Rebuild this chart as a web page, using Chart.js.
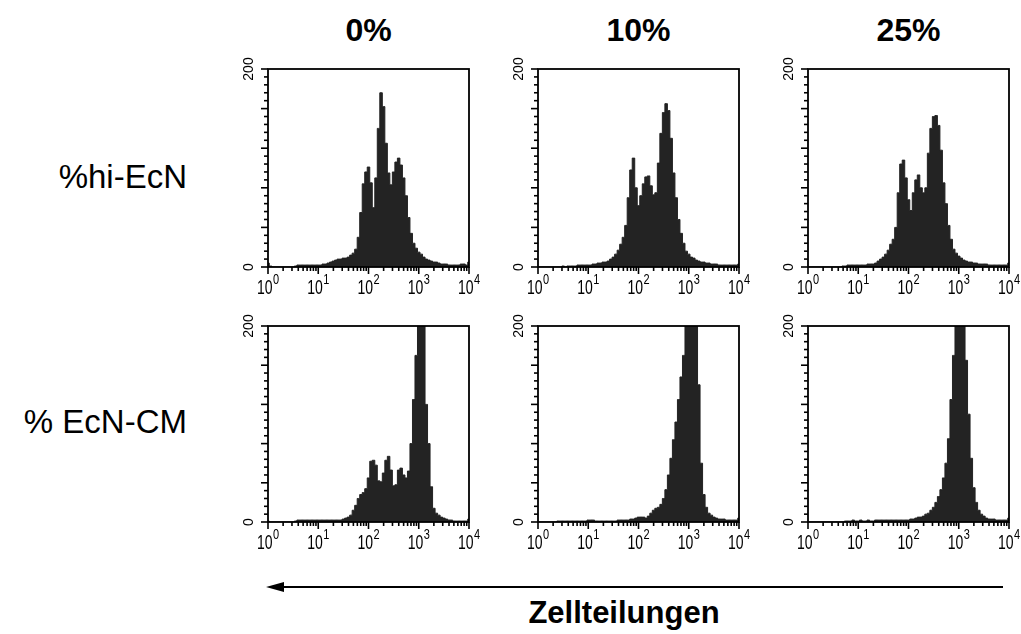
<!DOCTYPE html>
<html>
<head>
<meta charset="utf-8">
<script src="https://cdn.jsdelivr.net/npm/chart.js@4.4.1/dist/chart.umd.min.js"></script>
<style>
  html, body { margin:0; padding:0; background:#fff; width:1021px; height:634px; overflow:hidden; }
  body { position:relative; }
  canvas { position:absolute; }
  .t { position:absolute; font-family:'Liberation Sans', Arial, sans-serif; line-height:1; white-space:nowrap; color:#000; }
  .title { font-weight:bold; font-size:32px; transform:translate(-50%,-50%); }
  .row { font-size:33px; transform:translate(-100%,-50%); }
  .xlab { font-weight:bold; font-size:31px; transform:translate(-50%,-50%); }
</style>
</head>
<body>
<script>
// ---- data ----
const columnTitles = ['0%', '10%', '25%'];
const rowTitles = ['%hi-EcN', '% EcN-CM'];
const xTickExponents = [0, 1, 2, 3, 4];
const yAxisLabels = [0, 200];
// channel positions (log10 of fluorescence)
const logChannels = [
  0.00,0.05,0.10,0.15,0.20,0.25,0.30,0.35,0.40,0.45,
  0.50,0.55,0.60,0.65,0.70,0.75,0.80,0.85,0.90,0.95,
  1.00,1.05,1.10,1.15,1.20,1.25,1.30,1.35,1.40,1.45,
  1.50,1.55,1.60,1.65,1.70,1.75,1.80,1.85,1.90,1.95,
  2.00,2.05,2.10,2.15,2.20,2.25,2.30,2.35,2.40,2.45,
  2.50,2.55,2.60,2.65,2.70,2.75,2.80,2.85,2.90,2.95,
  3.00,3.05,3.10,3.15,3.20,3.25,3.30,3.35,3.40,3.45,
  3.50,3.55,3.60,3.65,3.70,3.75,3.80,3.85,3.90,3.95,
  4.00
];
const hiEcN_0 = [
  4,1,0,0,0,0,0,0,0,0,
  0,1,2,2,2,2,2,2,2,2,
  2,2,3,3,4,5,6,7,8,8,
  9,9,10,12,14,18,30,55,84,96,
  101,85,60,90,140,176,162,125,95,83,
  96,106,110,103,90,72,50,34,24,19,
  15,13,10,8,7,6,5,5,4,3,
  3,3,2,2,2,2,2,3,3,2,
  5
];
const hiEcN_10 = [
  0,0,0,0,0,0,0,0,0,0,
  1,0,1,1,1,1,2,2,2,2,
  2,2,3,3,4,4,5,5,6,8,
  10,13,17,23,30,42,70,98,110,80,
  62,72,84,91,92,82,73,75,105,135,
  156,165,158,130,95,70,48,34,24,16,
  13,10,9,7,6,5,5,4,4,3,
  3,3,2,2,2,2,2,2,2,2,
  3
];
const hiEcN_25 = [
  0,0,0,0,0,0,0,0,0,0,
  0,0,0,0,1,1,2,2,2,2,
  2,2,2,2,3,3,3,4,6,8,
  10,13,17,23,28,40,75,104,108,90,
  68,57,75,88,93,80,75,80,115,140,
  152,153,143,118,85,64,42,28,18,14,
  11,9,7,6,5,5,4,4,3,3,
  3,3,2,2,2,2,2,2,2,2,
  4
];
const ecnCM_0 = [
  1,0,0,0,0,0,0,0,0,0,
  0,1,2,2,2,2,2,2,2,2,
  2,2,2,2,2,2,2,2,2,2,
  3,4,5,7,12,17,24,28,30,34,
  45,62,63,58,42,41,50,63,67,53,
  37,38,53,55,48,45,52,80,125,170,
  210,230,200,120,80,36,14,9,7,5,
  4,3,2,2,1,1,1,1,1,1,
  3
];
const ecnCM_10 = [
  0,0,0,0,0,0,0,0,1,1,
  1,1,1,1,1,1,1,1,1,1,
  2,2,2,1,1,1,1,1,1,1,
  1,1,2,2,2,2,2,3,3,4,
  5,5,5,4,6,9,12,14,15,18,
  24,33,48,65,84,102,125,148,170,215,
  240,250,240,205,140,60,28,15,9,7,
  5,4,3,3,3,2,2,2,2,2,
  4
];
const ecnCM_25 = [
  0,0,0,0,0,0,0,0,0,0,
  0,0,0,0,0,1,1,1,2,1,
  1,2,1,1,2,1,1,2,2,2,
  2,2,2,2,2,2,2,2,2,2,
  2,3,3,4,5,5,6,8,9,12,
  15,20,26,33,45,60,85,125,170,210,
  240,250,230,165,110,65,35,20,12,8,
  6,4,3,3,3,2,2,2,2,2,
  4
];
const panelSeries = [[hiEcN_0, hiEcN_10, hiEcN_25], [ecnCM_0, ecnCM_10, ecnCM_25]];

// ---- layout ----
const panelLefts = [268, 538, 808];
const panelTops = [69, 326];
const panelW = 201;
const panelHs = [198, 196];
const PAD_L = 40, PAD_T = 12, PAD_R = 14, PAD_B = 34;
const FILL = '#232323';
const FONT = "'Liberation Sans', Arial, sans-serif";

const axisPlugin = {
  id: 'facsAxes',
  afterDatasetsDraw(chart) {
    const ctx = chart.ctx;
    const a = chart.chartArea;
    const xs = chart.scales.x, ys = chart.scales.y;
    ctx.save();
    ctx.strokeStyle = '#000';
    ctx.fillStyle = '#000';
    // frame
    ctx.lineWidth = 1.8;
    ctx.strokeRect(a.left, a.top, a.right - a.left, a.bottom - a.top);
    // y ticks
    ctx.lineWidth = 1.6;
    for (let v = 0; v <= 200; v += 8) {
      const y = ys.getPixelForValue(v);
      const len = (v % 40 === 0) ? 7 : 4;
      ctx.beginPath(); ctx.moveTo(a.left - len, y); ctx.lineTo(a.left, y); ctx.stroke();
    }
    // x ticks (decades + minor)
    for (let d = 0; d <= 4; d++) {
      for (let m = 1; m <= (d === 4 ? 1 : 9); m++) {
        const v = m * Math.pow(10, d);
        const x = xs.getPixelForValue(v);
        const len = (m === 1) ? 7 : 4;
        ctx.beginPath(); ctx.moveTo(x, a.bottom); ctx.lineTo(x, a.bottom + len); ctx.stroke();
      }
    }
    // x labels 10^n
    xTickExponents.forEach(e => {
      const x = xs.getPixelForValue(Math.pow(10, e));
      ctx.font = '14px ' + FONT;
      const w1 = ctx.measureText('10').width;
      ctx.font = '11px ' + FONT;
      const w2 = ctx.measureText(String(e)).width;
      const x0 = x - (w1 + w2 + 0.5) / 2;
      ctx.textAlign = 'left'; ctx.textBaseline = 'alphabetic';
      ctx.save();
      ctx.translate(x0, a.bottom + 26.5);
      ctx.scale(1, 1.5);
      ctx.font = '14px ' + FONT;
      ctx.fillText('10', 0, 0);
      ctx.restore();
      ctx.save();
      ctx.translate(x0 + w1 + 0.5, a.bottom + 17.3);
      ctx.scale(1, 1.35);
      ctx.font = '11px ' + FONT;
      ctx.fillText(String(e), 0, 0);
      ctx.restore();
    });
    // y labels, rotated
    yAxisLabels.forEach(v => {
      const y = ys.getPixelForValue(v);
      ctx.save();
      ctx.translate(a.left - 15, y);
      ctx.rotate(-Math.PI / 2);
      ctx.font = '14px ' + FONT;
      ctx.textAlign = 'center'; ctx.textBaseline = 'alphabetic';
      ctx.fillText(String(v), 0, 0);
      ctx.restore();
    });
    ctx.restore();
  }
};

function addText(cls, text, left, top) {
  const d = document.createElement('div');
  d.className = 't ' + cls;
  d.textContent = text;
  d.style.left = left + 'px';
  d.style.top = top + 'px';
  document.body.appendChild(d);
}

columnTitles.forEach((t, i) => addText('title', t, panelLefts[i] + panelW / 2, 30));
addText('row', rowTitles[0], 187, 176);
addText('row', rowTitles[1], 187, 421);
addText('xlab', 'Zellteilungen', 624, 612);

// arrow
const svgNS = 'http://www.w3.org/2000/svg';
const svg = document.createElementNS(svgNS, 'svg');
svg.setAttribute('width', '1021'); svg.setAttribute('height', '634');
svg.style.position = 'absolute'; svg.style.left = '0'; svg.style.top = '0';
const line = document.createElementNS(svgNS, 'line');
line.setAttribute('x1', '280'); line.setAttribute('y1', '587');
line.setAttribute('x2', '1003'); line.setAttribute('y2', '587');
line.setAttribute('stroke', '#000'); line.setAttribute('stroke-width', '2');
svg.appendChild(line);
const head = document.createElementNS(svgNS, 'polygon');
head.setAttribute('points', '266,587 284,582 284,592');
head.setAttribute('fill', '#000');
svg.appendChild(head);
document.body.appendChild(svg);

panelSeries.forEach((row, r) => {
  row.forEach((series, c) => {
    const cv = document.createElement('canvas');
    const W = PAD_L + panelW + PAD_R, H = PAD_T + panelHs[r] + PAD_B;
    cv.width = W; cv.height = H;
    cv.style.width = W + 'px'; cv.style.height = H + 'px';
    cv.style.left = (panelLefts[c] - PAD_L) + 'px';
    cv.style.top = (panelTops[r] - PAD_T) + 'px';
    document.body.appendChild(cv);
    const pts = logChannels.map((e, i) => ({ x: Math.pow(10, e), y: series[i] }));
    new Chart(cv, {
      type: 'line',
      data: { datasets: [{
        data: pts, fill: 'origin', backgroundColor: FILL, borderColor: FILL,
        borderWidth: 1, pointRadius: 0, stepped: 'middle'
      }] },
      options: {
        animation: false, responsive: false, devicePixelRatio: 1, events: [],
        plugins: { legend: { display: false }, tooltip: { enabled: false } },
        layout: { padding: { left: 0, right: PAD_R, top: PAD_T, bottom: 0 } },
        scales: {
          x: { type: 'logarithmic', min: 1, max: 10000,
               ticks: { display: false }, grid: { display: false }, border: { display: false },
               afterFit: s => { s.height = PAD_B; } },
          y: { type: 'linear', min: 0, max: 200,
               ticks: { display: false, stepSize: 8 }, grid: { display: false }, border: { display: false },
               afterFit: s => { s.width = PAD_L; } }
        }
      },
      plugins: [axisPlugin]
    });
  });
});
</script>
</body>
</html>
